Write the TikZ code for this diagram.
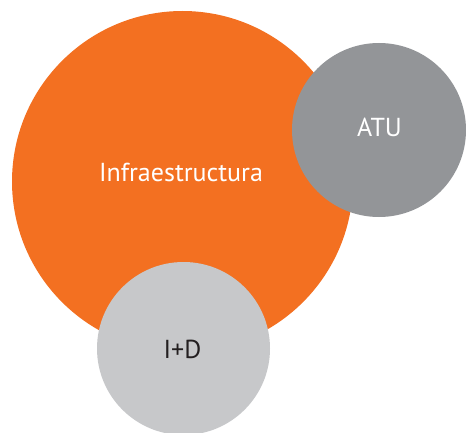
\documentclass[tikz,border=0pt]{standalone}
\usepackage{fontspec}
\setmainfont{PT Sans}
\definecolor{orng}{HTML}{F37021}
\definecolor{dgray}{HTML}{939598}
\definecolor{lgray}{HTML}{C7C8CA}
\definecolor{txtdark}{HTML}{231F20}
\begin{document}
\begin{tikzpicture}[x=1pt,y=-1pt,
  bubble/.style={circle,inner sep=0pt,draw=none},
  lbl/.style={anchor=base,inner sep=0pt,font=\fontsize{26}{26}\selectfont}]
\useasboundingbox (0,0) rectangle (466,433);
\node[bubble,fill=orng,minimum size=341pt] (infra) at (182.5,181.5) {};
\node[bubble,fill=dgray,minimum size=174pt] (atu) at (379,130) {};
\node[bubble,fill=lgray,minimum size=173pt] (id) at (183.5,348.5) {};
\node[lbl,text=white] (tinfra) at (181,181.5) {Infraestructura};
\node[lbl,text=white] (tatu) at (379.5,137) {ATU};
\node[lbl,text=txtdark] (tid) at (182.5,358) {I+D};
\end{tikzpicture}
\end{document}
